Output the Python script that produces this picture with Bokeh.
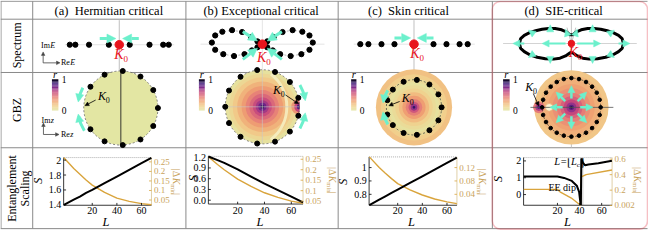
import numpy as np
from bokeh.plotting import figure
from bokeh.models import Range1d, Arrow, NormalHead, ColumnDataSource, BoxAnnotation
from bokeh.core.properties import value
from bokeh.embed import file_html
from bokeh.resources import INLINE

# ---------------- values ----------------
TITLES = ["(a)\u00a0\u00a0Hermitian critical", "(b)\u00a0Exceptional critical",
          "(c)\u00a0\u00a0Skin critical", "(d)\u00a0\u00a0SIE-critical"]
ROW_LABELS = ["Spectrum", "GBZ", "Entanglement", "Scaling"]

# spectra (Re E, Im E)
SPEC_A_RE = [-5.07, -4.5, -3.1, -1.07, 1.07, 3.1, 4.5, 5.07]
SPEC_A_IM = [0, 0, 0, 0, 0, 0, 0, 0]
SPEC_C_RE = [-5.5, -4.67, -3.33, -2.0, 2.0, 3.33, 4.67, 5.5]
SPEC_C_IM = [0, 0, 0, 0, 0, 0, 0, 0]
SPEC_B_L_RE = [-0.5, -1.17, -2.07, -3.1, -4.1, -4.83, -5.17, -4.83, -4.0, -2.9, -1.83, -1.07, -0.5]
SPEC_B_L_IM = [0.3, 0.77, 1.3, 1.5, 1.33, 0.93, 0.17, -0.6, -1.07, -1.27, -1.07, -0.67, -0.33]
SPEC_B_R_RE = [0.5, 1.17, 2.07, 3.1, 4.1, 4.83, 5.17, 4.83, 4.0, 2.9, 1.83, 1.07, 0.5]
SPEC_B_R_IM = [0.3, 0.77, 1.3, 1.5, 1.33, 0.93, 0.17, -0.6, -1.07, -1.27, -1.07, -0.67, -0.33]
SPEC_D_RE = [-5.33, -5.2, -4.83, -4.33, -3.67, -3.0, -2.33, -1.67, -1.0, -0.5, -0.13,
             0.13, 0.5, 1.0, 1.67, 2.33, 3.0, 3.67, 4.33, 4.83, 5.2, 5.33,
             5.2, 4.83, 4.27, 3.5, 2.67, 1.83, 1.17, 0.6, 0.13,
             -0.13, -0.6, -1.17, -1.83, -2.67, -3.5, -4.27, -4.83, -5.2, -5.33]
SPEC_D_IM = [0, 0.53, 0.87, 1.13, 1.37, 1.53, 1.6, 1.6, 1.47, 1.23, 0.93,
             0.93, 1.23, 1.47, 1.6, 1.6, 1.53, 1.37, 1.13, 0.87, 0.53, 0,
             -0.53, -0.87, -1.2, -1.47, -1.63, -1.67, -1.57, -1.33, -1.0,
             -1.0, -1.33, -1.57, -1.67, -1.63, -1.47, -1.2, -0.87, -0.53, 0]
# flow arrows on the d spectrum (start Re, start Im, end Re, end Im)
FLOW_D_X0 = [-4.83, -0.6, 0.6, 4.83, -3.83, -2.17, 2.17, 3.83, -3.83, -2.17, 2.17, 3.83, -0.4, 0.4]
FLOW_D_Y0 = [0, 0, 0, 0, 1.0, 1.43, 1.43, 1.0, -1.07, -1.57, -1.57, -1.07, 0.93, 0.93]
FLOW_D_X1 = [-6.0, -3.0, 3.0, 6.0, -4.4, -2.17, 2.17, 4.4, -4.4, -2.17, 2.17, 4.4, -0.6, 0.6]
FLOW_D_Y1 = [0, 0, 0, 0, 1.43, 2.0, 2.0, 1.43, -1.5, -2.13, -2.13, -1.5, 1.53, 1.53]

# GBZ point angles (deg) on |z| = 1
GBZ_A_ANG = [0, 29, 58, 87, 116, 145, -29, -58, -87, -116, -145]
GBZ_B_ANG = [180, 154, 126, 98, 70, 42, 14, -14, -42, -70, -98, -126, -154]
GBZ_C_ANG = [0, 28, 56, 84, 112, 140, 165, -28, -56, -84, -112, -140, -165]
GBZ_D_ANG = [0, 15, 30, 45, 60, 75, 90, 105, 120, 135, 150, 165, 180,
             195, 210, 225, 240, 255, 270, 285, 300, 315, 330, 345]
FLOW_GBZ_D_ANG = [0, 45, 90, 135, 180, 225, 270, 315]
# radial profile of r over each disk (radius, value)
RING_A_R, RING_A_V = [1.0], [0.0]
RING_B_R = [1.0, 0.9, 0.8, 0.68, 0.56, 0.45, 0.35, 0.26, 0.18, 0.11, 0.05]
RING_B_V = [0.03, 0.1, 0.17, 0.25, 0.33, 0.42, 0.5, 0.58, 0.67, 0.78, 0.92]
RING_C_R = [1.38, 1.2, 1.05, 0.92, 0.8, 0.68, 0.55, 0.42, 0.3, 0.2, 0.12, 0.05]
RING_C_V = [0.2, 0.15, 0.08, 0.03, 0.07, 0.13, 0.22, 0.32, 0.43, 0.55, 0.7, 0.9]
RING_D_R = [1.27, 1.1, 0.95, 0.8, 0.65, 0.5, 0.38, 0.27, 0.17, 0.09, 0.04]
RING_D_V = [0.18, 0.22, 0.26, 0.31, 0.37, 0.44, 0.52, 0.6, 0.7, 0.82, 0.95]

# entanglement scaling
A_L = [-3, 5, 10, 15, 20, 30, 40, 50, 60, 68]
A_S = [1.40, 1.47, 1.51, 1.56, 1.60, 1.69, 1.78, 1.87, 1.96, 2.03]
A_K = [0.272, 0.215, 0.185, 0.155, 0.128, 0.09, 0.06, 0.043, 0.031, 0.025]
B_L = [-1.8, 5, 10, 20, 30, 40, 50, 60, 68.7]
B_S = [1.22, 1.12, 1.04, 0.86, 0.66, 0.46, 0.28, 0.10, -0.06]
B_K = [0.262, 0.225, 0.2, 0.155, 0.12, 0.09, 0.068, 0.05, 0.04]
C_L = [-3, 5, 10, 15, 20, 30, 40, 50, 60, 68]
C_S = [0.72, 0.76, 0.785, 0.81, 0.835, 0.885, 0.935, 0.985, 1.035, 1.075]
C_K = [0.152, 0.12, 0.103, 0.087, 0.072, 0.053, 0.038, 0.026, 0.0175, 0.012]
D_LS = [-10.5, 20, 26, 33, 37.5, 39.6, 40.8, 41.2, 41.6, 43, 45, 48, 57, 69.3]
D_S = [1.08, 1.07, 0.99, 0.81, 0.53, 0.16, -0.49, -0.62, 2.15, 1.9, 1.74, 1.79, 1.86, 2.01]
D_LK = [-10.5, 20, 22.3, 32.6, 40.8, 41.6, 45.9, 69.3]
D_K = [0.21, 0.21, 0.178, 0.098, 0.005, 0.37, 0.40, 0.46]

L_TICKS = [20, 40, 60]
S_TICKS = {"a": ([1.4, 1.6, 1.8, 2.0], ["1.4", "1.6", "1.8", "2"]),
           "b": ([0.0, 0.3, 0.6, 0.9, 1.2], ["0.0", "0.3", "0.6", "0.9", "1.2"]),
           "c": ([0.8, 0.9, 1.0], ["0.8", "0.9", "1"]),
           "d": ([0, 1, 2], ["0", "1", "2"])}
K_TICKS = {"a": ([0.05, 0.1, 0.15, 0.2, 0.25], ["0.05", "0.1", "0.15", "0.2", "0.25"]),
           "b": ([0.05, 0.1, 0.15, 0.2, 0.25], ["0.05", "0.1", "0.15", "0.2", "0.25"]),
           "c": ([0.04, 0.08, 0.12], ["0.04", "0.08", "0.12"]),
           "d": ([0.002, 0.2, 0.4, 0.6], ["0.002", "0.2", "0.4", "0.6"])}

# ---------------- styling / layout ----------------
W, H = 648, 230
RW, RH = 664, 246
SX, SY = W / RW, H / RH
SERIF = value("Liberation Serif")
CYAN = "#6cf0cc"
GOLD = "#d9a43c"
GOLD_T = "#c9a35c"
GRID = "#8a8a8a"
RED = "#e8141c"
BOXRED = "#e22a3c"
STOPS = [(0.0, "#e3e6a3"), (0.15, "#f1cf8c"), (0.3, "#f0a472"), (0.45, "#e57a78"),
         (0.6, "#c4467e"), (0.75, "#7c2a8c"), (0.88, "#3a1878"), (1.0, "#06040c")]


def cmap(v):
    v = min(max(v, 0.0), 1.0)
    for (v0, c0), (v1, c1) in zip(STOPS[:-1], STOPS[1:]):
        if v <= v1:
            t = (v - v0) / (v1 - v0)
            a = [int(c0[i:i + 2], 16) for i in (1, 3, 5)]
            b = [int(c1[i:i + 2], 16) for i in (1, 3, 5)]
            return "#%02x%02x%02x" % tuple(int(round(a[k] + (b[k] - a[k]) * t)) for k in range(3))
    return STOPS[-1][1]


def rx(p0, v0, p1, v1):
    k = (v1 - v0) / (p1 - p0)
    return Range1d(v0 + (0 - p0) * k, v0 + (RW - p0) * k)


def ry(p0, v0, p1, v1):
    k = (v1 - v0) / (p1 - p0)
    return Range1d(v0 + (RH - p0) * k, v0 + (0 - p0) * k)


XR, YR = {}, {}
# spectrum planes: 1 unit = 10 reference px
SPEC_C = {"sa": (121.7, 47.3), "sb": (268.3, 46.7), "sc": (423.7, 46.7), "sd": (585.0, 46.0)}
for k, (cx, cy) in SPEC_C.items():
    XR[k] = rx(cx, 0, cx + 10, 1)
    YR[k] = ry(cy, 0, cy - 10, 1)
# GBZ planes: equal aspect on canvas
GBZ_C = {"za": (123.3, 115.0, 38.0), "zb": (268.3, 113.7, 38.0), "zc": (423.7, 114.3, 28.3), "zd": (585.0, 114.3, 30.0)}
for k, (cx, cy, R) in GBZ_C.items():
    Rc = R * SX
    XR[k] = Range1d(-cx * SX / Rc, (W - cx * SX) / Rc)
    YR[k] = Range1d((cy * SY - H) / Rc, cy * SY / Rc)
# entanglement panels
PANELS = {
    "a": dict(fr=(64.7, 154.7, 168.0, 219.0), Lm=(94.0, 144.5), Sm=(218.6, 1.4, 170.7, 2.0), Km=(213.4, 0.05, 172.6, 0.25),
              Spos=(38, 193), Lpos=(108, 237), Kx=180, Ky=180, L=A_L, S=A_S, LK=A_L, K=A_K),
    "b": dict(fr=(213.0, 310.0, 166.7, 217.7), Lm=(243.0, 298.0), Sm=(213.6, 0.0, 167.6, 1.2), Km=(214.6, 0.05, 169.8, 0.25),
              Spos=(197, 190), Lpos=(266, 237), Kx=340, Ky=178, L=B_L, S=B_S, LK=B_L, K=B_K),
    "c": dict(fr=(377.7, 467.7, 167.3, 219.0), Lm=(407.0, 457.5), Sm=(207.3, 0.8, 178.7, 1.0), Km=(207.3, 0.04, 178.7, 0.12),
              Spos=(351, 194), Lpos=(421, 237), Kx=494, Ky=180, L=C_L, S=C_S, LK=C_L, K=C_K),
    "d": dict(fr=(536.0, 626.7, 168.0, 219.0), Lm=(570.7, 616.0), Sm=(207.57, 0.0, 171.57, 2.0), Km=(219.25, 0.002, 169.7, 0.6),
              Spos=(510, 191), Lpos=(581, 237), Kx=653, Ky=178, L=D_LS, S=D_S, LK=D_LK, K=D_K),
}
for k, P in PANELS.items():
    XR[k + "L"] = rx(P["Lm"][0], 20, P["Lm"][1], 60)
    YR[k + "S"] = ry(*P["Sm"])
    YR[k + "K"] = ry(*P["Km"])

p = figure(width=W, height=H, x_range=Range1d(0, RW), y_range=Range1d(RH, 0),
           output_backend="svg", toolbar_location=None, min_border=0,
           x_axis_location=None, y_axis_location=None, outline_line_color=None)
p.extra_x_ranges = XR
p.extra_y_ranges = YR
p.grid.visible = False
p.background_fill_color = "white"
p.border_fill_color = "white"


def T(x, y, s, size, color="black", align="center", baseline="middle", style="normal",
      angle=0.0, xr="default", yr="default", font=SERIF):
    p.text(x=[x], y=[y], text=[s], text_font=font, text_font_size=f"{size}px",
           text_color=color, text_align=align, text_baseline=baseline,
           text_font_style=style, angle=angle, x_range_name=xr, y_range_name=yr)


def arrows(rng, x0, y0, x1, y1, color, lw, head):
    src = ColumnDataSource(dict(x0=list(x0), y0=list(y0), x1=list(x1), y1=list(y1)))
    p.add_layout(Arrow(end=NormalHead(size=head, fill_color=color, line_color=color, line_width=0.5),
                       x_start="x0", y_start="y0", x_end="x1", y_end="y1", source=src,
                       line_color=color, line_width=lw, x_range_name=rng, y_range_name=rng))


def K0(x, y, color, size, sub, dx, dy):
    T(x, y, "K", size, color, style="italic")
    T(x + dx, y + dy, "0", sub, color)


# ---------------- table ----------------
COL_X = [0.5, 33, 190, 346, 504]
ROW_Y = [0.8, 20, 77, 157.5, 244]
p.segment(x0=[0] * len(ROW_Y), y0=ROW_Y, x1=[663] * len(ROW_Y), y1=ROW_Y, line_color=GRID, line_width=1)
p.segment(x0=COL_X, y0=[0.8] * len(COL_X), x1=COL_X, y1=[244] * len(COL_X), line_color=GRID, line_width=1)

for t, cx in zip(TITLES, [111, 267, 418, 577]):
    T(cx, 11.5, t, 12.5)
T(17, 48, ROW_LABELS[0], 12, angle=np.pi / 2)
T(17, 117, ROW_LABELS[1], 12, angle=np.pi / 2)
T(11.5, 201, ROW_LABELS[2], 12, angle=np.pi / 2)
T(25, 201, ROW_LABELS[3], 12, angle=np.pi / 2)

# ---------------- spectrum row ----------------
# a
p.segment(x0=[121.7], y0=[21], x1=[121.7], y1=[76], line_color="#b0b0b0", line_width=0.8)
p.segment(x0=[66], y0=[47.3], x1=[178], y1=[47.3], line_color="#dddddd", line_width=0.8)
p.scatter(SPEC_A_RE, SPEC_A_IM, size=5.2, color="black", x_range_name="sa", y_range_name="sa")
p.scatter([0], [0], size=8.5, color=RED, x_range_name="sa", y_range_name="sa")
arrows("sa", [-2.0, 2.0], [0.66, 0.66], [-0.34, 0.34], [0.66, 0.66], CYAN, 3, 9)
K0(121.3, 57.5, RED, 14, 9, 7.0, 5.0)
# axes legend
arrows("default", [43.7, 43.7], [66.7, 66.7], [43.7, 61.0], [55.0, 66.7], "#444444", 0.8, 3.5)
T(41.5, 48.5, "Im", 8, align="left")
T(51.0, 48.5, "E", 8, align="left", style="italic")
T(62, 66.7, "Re", 8, align="left")
T(71.5, 66.7, "E", 8, align="left", style="italic")

# b
p.segment(x0=[268.3], y0=[21], x1=[268.3], y1=[76], line_color="#dddddd", line_width=0.8)
p.segment(x0=[205], y0=[46.7], x1=[332], y1=[46.7], line_color="#dddddd", line_width=0.8)
p.line([0] + SPEC_B_L_RE + [0], [0] + SPEC_B_L_IM + [0], line_color="#999999", line_width=0.7,
       line_dash="2 2", x_range_name="sb", y_range_name="sb")
p.line([0] + SPEC_B_R_RE + [0], [0] + SPEC_B_R_IM + [0], line_color="#999999", line_width=0.7,
       line_dash="2 2", x_range_name="sb", y_range_name="sb")
p.scatter(SPEC_B_L_RE + SPEC_B_R_RE, SPEC_B_L_IM + SPEC_B_R_IM, size=5.2, color="black",
          x_range_name="sb", y_range_name="sb")
p.scatter([0], [0], size=8.5, color=RED, x_range_name="sb", y_range_name="sb")
arrows("sb", [-2.0, 2.0, -2.0, 2.0], [1.34, 1.34, -1.63, -1.63], [-0.5, 0.5, -0.5, 0.5],
       [0.34, 0.34, -0.43, -0.43], CYAN, 3, 9)
K0(267.5, 60.5, RED, 14, 9, 7.0, 5.5)

# c
p.segment(x0=[423.7], y0=[21], x1=[423.7], y1=[76], line_color="#b0b0b0", line_width=0.8)
p.segment(x0=[362], y0=[46.7], x1=[486], y1=[46.7], line_color="#dddddd", line_width=0.8)
p.scatter(SPEC_C_RE, SPEC_C_IM, size=5.2, color="black", x_range_name="sc", y_range_name="sc")
p.scatter([0], [0], size=8.5, color=RED, x_range_name="sc", y_range_name="sc")
arrows("sc", [-2.0, 2.0], [0.67, 0.67], [-0.34, 0.34], [0.67, 0.67], CYAN, 3, 9)
K0(424.7, 56.3, RED, 14, 9, 7.0, 5.5)

# d
p.segment(x0=[585], y0=[20], x1=[585], y1=[157.5], line_color="#b8b8b8", line_width=0.8)
p.segment(x0=[515], y0=[46], x1=[652], y1=[46], line_color="#c8c8c8", line_width=0.8)
p.segment(x0=[0, 0, 0], y0=[0, 0, 0], x1=[-0.45, 0.45, 0.0], y1=[1.7, 1.7, -1.0], line_color="#999999",
          line_width=0.6, x_range_name="sd", y_range_name="sd")
p.line(SPEC_D_RE, SPEC_D_IM, line_color="black", line_width=3, x_range_name="sd", y_range_name="sd")
arrows("sd", FLOW_D_X0, FLOW_D_Y0, FLOW_D_X1, FLOW_D_Y1, CYAN, 2.2, 7)
p.scatter([0], [0], size=6.5, color=RED, x_range_name="sd", y_range_name="sd")
K0(586.7, 55.3, RED, 14, 9, 7.0, 5.5)

# ---------------- GBZ row ----------------
def colorbar(x0, x1):
    n = 40
    ys = np.linspace(117.7, 84.3, n + 1)
    vals = [(i + 0.5) / n for i in range(n)]
    p.quad(left=[x0] * n, right=[x1] * n, bottom=list(ys[:-1]), top=list(ys[1:]),
           fill_color=[cmap(v) for v in vals], line_color=None)
    T((x0 + x1) / 2, 79.5, "r", 10.5, style="italic")
    T(x1 + 3.5, 85.0, "1", 9.5, align="left")
    T(x1 + 3.5, 117.5, "0", 9.5, align="left")


def rings(rng, R, V):
    p.circle(x=[0] * len(R), y=[0] * len(R), radius=R, fill_color=[cmap(v) for v in V],
             line_color=None, x_range_name=rng, y_range_name=rng)


def dots(rng, ang, size):
    a = np.radians(ang)
    p.scatter(list(np.cos(a)), list(np.sin(a)), size=size, color="black", x_range_name=rng, y_range_name=rng)


def cyan_arc(rng, r, a0, a1):
    d = 5 if a1 > a0 else -5
    lo, hi = sorted([a0, a1 - d * 0.6])
    p.arc(x=[0], y=[0], radius=r, start_angle=np.radians(lo), end_angle=np.radians(hi),
          line_color=CYAN, line_width=3, x_range_name=rng, y_range_name=rng)
    t0, t1 = np.radians(a1 - d), np.radians(a1)
    arrows(rng, [r * np.cos(t0)], [r * np.sin(t0)], [r * np.cos(t1)], [r * np.sin(t1)], CYAN, 3, 8)


# a
colorbar(52.7, 59.3)
rings("za", RING_A_R, RING_A_V)
p.circle(x=[0], y=[0], radius=1.0, fill_color=None, line_color="#555555", line_width=0.7,
         line_dash="2 2", x_range_name="za", y_range_name="za")
p.segment(x0=[123.3], y0=[77], x1=[123.3], y1=[155], line_color="#222222", line_width=0.9)
dots("za", GBZ_A_ANG, 5.0)
cyan_arc("za", 1.16, 152, 172)
cyan_arc("za", 1.16, 212, 188)
K0(104, 101.7, "black", 12, 8, 6.0, 4.5)
arrows("default", [97.5], [106.5], [86.5], [112.5], "black", 0.8, 4)
arrows("default", [44, 44], [143.3, 143.3], [44, 60], [131, 143.3], "#444444", 0.8, 3.5)
T(42, 128.5, "Im", 8, align="left")
T(51.5, 128.5, "z", 8, align="left", style="italic")
T(62, 143.3, "Re", 8, align="left")
T(71.5, 143.3, "z", 8, align="left", style="italic")

# b
colorbar(203.3, 209.3)
rings("zb", RING_B_R, RING_B_V)
p.arc(x=[-0.47], y=[0], radius=1.13, start_angle=-0.9, end_angle=0.9, line_color="#f6f0c4",
      line_width=3, line_alpha=0.85, x_range_name="zb", y_range_name="zb")
p.wedge(x=[1.0] * 3, y=[0] * 3, radius=[0.22, 0.14, 0.07], start_angle=np.pi / 2, end_angle=3 * np.pi / 2,
        fill_color=[cmap(0.35), cmap(0.6), cmap(0.85)], line_color=None, x_range_name="zb", y_range_name="zb")
p.segment(x0=[-1, 0], y0=[0, -1], x1=[1, 0], y1=[0, 1], line_color="#c8c8c8", line_width=0.6,
          x_range_name="zb", y_range_name="zb")
p.circle(x=[0], y=[0], radius=1.0, fill_color=None, line_color="#555555", line_width=0.7,
         line_dash="2 2", x_range_name="zb", y_range_name="zb")
dots("zb", GBZ_B_ANG, 5.0)
cyan_arc("zb", 1.17, 30, 8)
cyan_arc("zb", 1.17, -30, -8)
K0(283.3, 95.3, "black", 12, 8, 6.0, 4.5)
arrows("default", [292], [101], [305.5], [110.5], "black", 0.8, 4)

# c
colorbar(359.3, 364.7)
rings("zc", RING_C_R, RING_C_V)
p.circle(x=[0], y=[0], radius=1.0, fill_color=None, line_color="#333333", line_width=0.7,
         line_dash="2 2", x_range_name="zc", y_range_name="zc")
dots("zc", GBZ_C_ANG, 5.0)
cyan_arc("zc", 1.13, 147, 172)
cyan_arc("zc", 1.13, 213, 188)
K0(415.3, 104.3, "black", 12, 8, 6.0, 4.5)
arrows("default", [409], [108], [398], [112.5], "black", 0.8, 4)

# d
colorbar(515.0, 521.7)
rings("zd", RING_D_R, RING_D_V)
p.circle(x=[-1.11] * 3, y=[0] * 3, radius=[0.2, 0.12, 0.06], fill_color=[cmap(0.45), cmap(0.65), cmap(0.85)],
         line_color=None, x_range_name="zd", y_range_name="zd")
p.circle(x=[-0.76], y=[0], radius=0.13, fill_color="#fbf6d6", line_color="#e8b27a", line_width=0.8,
         x_range_name="zd", y_range_name="zd")
p.segment(x0=[543], y0=[114.3], x1=[628], y1=[114.3], line_color="#555555", line_width=0.8)
p.circle(x=[0], y=[0], radius=1.0, fill_color=None, line_color="#222222", line_width=0.7,
         line_dash="2 2", x_range_name="zd", y_range_name="zd")
dots("zd", GBZ_D_ANG, 3.6)
fa = np.radians(FLOW_GBZ_D_ANG)
arrows("zd", 0.3 * np.cos(fa), 0.3 * np.sin(fa), 0.74 * np.cos(fa), 0.74 * np.sin(fa), CYAN, 2.5, 7)
K0(541.7, 92, "black", 12, 8, 6.0, 4.5)
arrows("default", [546], [99.5], [551.5], [112.8], "black", 0.8, 4)

# ---------------- entanglement row ----------------
for k, P in PANELS.items():
    l, r, t, b = P["fr"]
    Ln, Sn, Kn = k + "L", k + "S", k + "K"
    if k == "d":
        p.quad(left=[41.0], right=[43.6], top=[t], bottom=[b], x_range_name=Ln,
               fill_color="#b0b0b0", fill_alpha=0.45, line_color=None)
    p.segment(x0=[l], y0=[t], x1=[r], y1=[t], line_color="#9a9a9a", line_width=0.8, line_dash="1 1")
    p.segment(x0=[r], y0=[t], x1=[r], y1=[b], line_color="#dccb9e", line_width=0.9)
    p.segment(x0=[l, l], y0=[t, b], x1=[l, r], y1=[b, b], line_color="#222222", line_width=0.9)
    p.line(P["LK"], P["K"], line_color=GOLD, line_width=1.4, x_range_name=Ln, y_range_name=Kn)
    p.line(P["L"], P["S"], line_color="black", line_width=2.0, x_range_name=Ln, y_range_name=Sn)
    # ticks
    p.segment(x0=L_TICKS, y0=[b] * 3, x1=L_TICKS, y1=[b - 2.5] * 3, line_color="black", line_width=0.8,
              x_range_name=Ln)
    p.text(x=L_TICKS, y=[225.0] * 3, text=[str(v) for v in L_TICKS], text_font=SERIF, text_font_size="10px",
           text_align="center", text_baseline="middle", x_range_name=Ln)
    sv, sl = S_TICKS[k]
    p.segment(x0=[l] * len(sv), y0=sv, x1=[l + 2.5] * len(sv), y1=sv, line_color="black", line_width=0.8,
              y_range_name=Sn)
    p.text(x=[l - 2.5] * len(sv), y=sv, text=sl, text_font=SERIF, text_font_size="10px",
           text_align="right", text_baseline="middle", y_range_name=Sn)
    kv, kl = K_TICKS[k]
    p.segment(x0=[r] * len(kv), y0=kv, x1=[r - 2.5] * len(kv), y1=kv, line_color=GOLD, line_width=0.8,
              y_range_name=Kn)
    p.text(x=[r + 2.5] * len(kv), y=kv, text=kl, text_font=SERIF, text_font_size="9px",
           text_color=GOLD_T, text_align="left", text_baseline="middle", y_range_name=Kn)
    # axis labels
    T(P["Spos"][0], P["Spos"][1], "S", 12.5, style="italic", angle=np.pi / 2)
    T(P["Lpos"][0], P["Lpos"][1], "L", 12.5, style="italic")
    kx, ky = P["Kx"], P["Ky"]
    T(kx, ky, "|\u0394", 10, GOLD_T, align="left", angle=-np.pi / 2)
    T(kx, ky + 9.5, "K", 10, GOLD_T, align="left", style="italic", angle=-np.pi / 2)
    T(kx - 2.8, ky + 16.5, "min", 6.5, GOLD_T, align="left", angle=-np.pi / 2)
    T(kx, ky + 26.0, "|", 10, GOLD_T, align="left", angle=-np.pi / 2)

# d annotations
T(567.5, 172.5, "L", 10.5, align="left", style="italic")
T(574.0, 172.5, "=", 10.5, align="left")
T(580.5, 172.5, "\u230a", 10.5, align="left", font=value("DejaVu Serif"))
T(584.5, 172.5, "L", 10.5, align="left", style="italic")
T(590.5, 175.5, "c", 7, align="left")
T(594.0, 172.5, "\u230b", 10.5, align="left", font=value("DejaVu Serif"))
T(575.5, 200.0, "EE dip", 10)

# red frame around column d
p.add_layout(BoxAnnotation(left=504, right=663, top=1.0, bottom=244.5, fill_color=None, fill_alpha=0,
                           line_color=BOXRED, line_width=1.6, border_radius=8))

open("out.html", "w").write(file_html(p, INLINE))
